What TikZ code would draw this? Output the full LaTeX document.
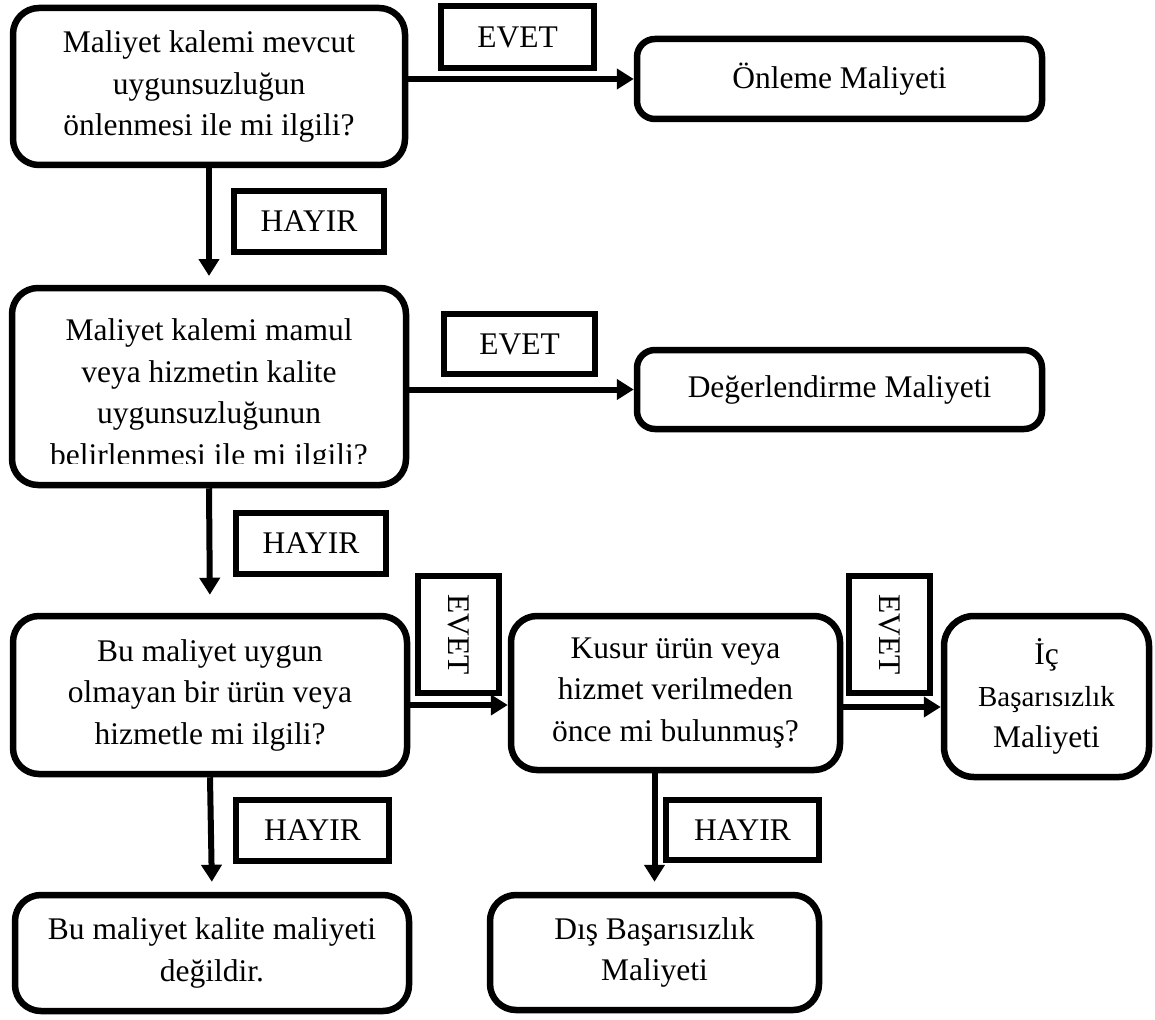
\documentclass[tikz,border=0pt]{standalone}
\usepackage{fontspec}
\setmainfont{Liberation Serif}
\usetikzlibrary{arrows.meta}
\tikzset{
  soru/.style={draw, line width=6.5pt, rounded corners=26pt, align=center,
    inner sep=0pt, font=\fontsize{31.5}{41.5}\selectfont},
  sonuc/.style={soru, rounded corners=18pt},
  yazi/.style={align=center, inner sep=0pt, font=\fontsize{31.5}{41.5}\selectfont},
  etiket/.style={draw, line width=6pt, inner sep=0pt,
    font=\fontsize{31.5}{41.5}\selectfont},
  ok/.style={line width=6pt, -{Triangle[length=17pt, width=20pt]}}
}

\begin{document}
\begin{tikzpicture}[x=1pt, y=-1pt]
  \useasboundingbox (0,0) rectangle (1155,1019);

  % First question: prevention
  \node[soru, minimum width=392pt, minimum height=157pt] (q1) at (209,86.5)
    {Maliyet kalemi mevcut\\uygunsuzluğun\\önlenmesi ile mi ilgili?};
  \node[sonuc, minimum width=405pt, minimum height=80pt] (onleme) at (839.5,79) {Önleme Maliyeti};
  \node[etiket, minimum width=153pt, minimum height=62pt] (evet1) at (517.5,37) {EVET};
  \node[etiket, minimum width=150pt, minimum height=61pt] (hayir1) at (309,221.5) {HAYIR};
  \draw[ok] (q1.east |- onleme.west) -- (onleme.west);
  \draw[ok, shorten >=12pt] (q1.south) -- (q1.south |- 0,288);

  % Second question: appraisal (text sits low and its last line is cut off)
  \node[soru, minimum width=394pt, minimum height=197pt] (q2) at (209,386.5) {};
  \node[yazi] (q2yazi) at (209,395.5)
    {Maliyet kalemi mamul\\veya hizmetin kalite\\uygunsuzluğunun\\belirlenmesi ile mi ilgili?};
  \fill[white] (40,464) rectangle (380,481);
  \node[sonuc, minimum width=405pt, minimum height=79pt] (degerlendirme) at (839.5,389.5) {Değerlendirme Maliyeti};
  \node[etiket, minimum width=151pt, minimum height=60pt] (evet2) at (519.5,344) {EVET};
  \node[etiket, minimum width=150pt, minimum height=61pt] (hayir2) at (311,543.5) {HAYIR};
  \draw[ok] (q2.east |- degerlendirme.west) -- (degerlendirme.west);

  % Third row: failure questions
  \node[soru, minimum width=394pt, minimum height=158pt] (q3) at (210,695)
    {Bu maliyet uygun\\olmayan bir ürün veya\\hizmetle mi ilgili?};
  \node[soru, minimum width=329pt, minimum height=154pt] (q4) at (675.5,693)
    {Kusur ürün veya\\hizmet verilmeden\\önce mi bulunmuş?};
  \node[soru, rounded corners=30pt, minimum width=205pt, minimum height=161pt] (ic) at (1046.5,696.5)
    {İç\\{\fontsize{29}{39}\selectfont Başarısızlık}\\Maliyeti};
  \node[etiket, rotate=-90, minimum width=117pt, minimum height=81pt] (evet3) at (458.5,634.5) {EVET};
  \node[etiket, rotate=-90, minimum width=117pt, minimum height=81pt] (evet4) at (889.5,634.5) {EVET};
  \draw[ok, shorten >=18pt] (q2.south) -- (q3.north);
  \draw[ok] ([yshift=-10pt]q3.east) -- ([yshift=-12pt]q4.west);
  \draw[ok] ([yshift=-14pt]q4.east) -- ([yshift=-10.5pt]ic.west);

  % Bottom row: results
  \node[soru, minimum width=394pt, minimum height=116pt] (degil) at (212,953)
    {Bu maliyet kalite maliyeti\\değildir.};
  \node[soru, minimum width=329pt, minimum height=115pt] (dis) at (654.5,952.5)
    {Dış Başarısızlık\\Maliyeti};
  \node[etiket, minimum width=153pt, minimum height=61pt] (hayir3) at (312.5,830.5) {HAYIR};
  \node[etiket, minimum width=153pt, minimum height=60pt] (hayir4) at (742.5,830) {HAYIR};
  \draw[ok, shorten >=10pt] (q3.south) -- (degil.north);
  \draw[ok, shorten >=10pt] (dis.north |- q4.south) -- (dis.north);
\end{tikzpicture}
\end{document}
